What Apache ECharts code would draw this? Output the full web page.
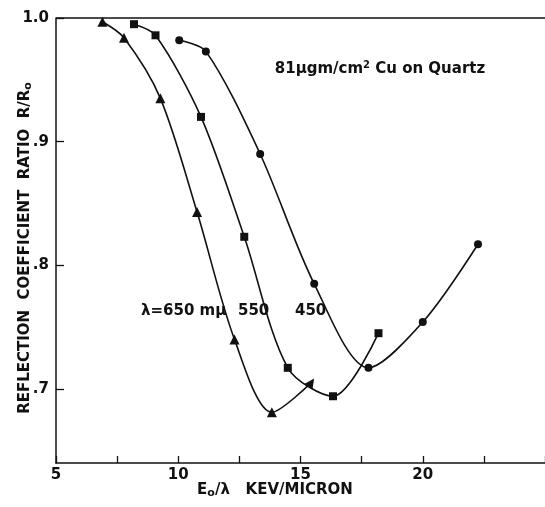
<!DOCTYPE html>
<html>
<head>
<meta charset="utf-8">
<script src="https://cdn.jsdelivr.net/npm/echarts@6/dist/echarts.min.js"></script>
<style>
  html, body { margin: 0; padding: 0; background: #fff; }
  #chart { width: 545px; height: 507px; }
</style>
</head>
<body>
<div id="chart"></div>
<script>
  // 650 m-mu (triangles)
  var x650 = [6.90, 7.78, 9.27, 10.77, 12.30, 13.83, 15.44];
  var y650 = [0.997, 0.984, 0.935, 0.843, 0.740, 0.681, 0.705];
  // 550 (squares)
  var x550 = [8.19, 9.07, 10.93, 12.70, 14.48, 16.33, 18.19];
  var y550 = [0.995, 0.986, 0.920, 0.823, 0.717, 0.694, 0.745];
  // 450 (circles)
  var x450 = [10.04, 11.13, 13.35, 15.56, 17.78, 20.0, 22.26];
  var y450 = [0.982, 0.973, 0.890, 0.785, 0.717, 0.754, 0.817];

  var xTicks = [5, 7.5, 10, 12.5, 15, 17.5, 20, 22.5, 25];
  var xLabels = [5, 10, 15, 20];
  var yTicks = [0.7, 0.8, 0.9, 1.0];

  var ink = '#111';
  var font = '"DejaVu Sans", Verdana, sans-serif';

  function pairs(xs, ys) {
    return xs.map(function (x, i) { return [x, ys[i]]; });
  }

  function curve(name, xs, ys, symbol, size) {
    return {
      name: name,
      type: 'line',
      smooth: 0.3,
      data: pairs(xs, ys),
      symbol: symbol,
      symbolSize: size,
      showAllSymbol: true,
      lineStyle: {color: ink, width: 1.6},
      itemStyle: {color: ink},
      z: 3
    };
  }

  function label(text, x, y) {
    return {
      type: 'text', x: x, y: y,
      style: {text: text, fill: ink, font: 'bold 15px ' + font, align: 'left', verticalAlign: 'middle'}
    };
  }

  var tri = curve('650', x650, y650, 'triangle', 10);
  // last point is drawn as an arrow head along the curve
  var last = tri.data.length - 1;
  tri.data[last] = {value: tri.data[last], symbolRotate: -35};

  var chart = echarts.init(document.getElementById('chart'));
  chart.setOption({
    animation: false,
    backgroundColor: '#fff',
    grid: {left: 56, right: -7, top: 18, bottom: 44},
    xAxis: {
      type: 'value',
      min: 5,
      max: 25,
      axisLine: {show: true, lineStyle: {color: ink, width: 1.5}},
      axisTick: {show: true, inside: true, length: 7, customValues: xTicks, lineStyle: {color: ink, width: 1.3}},
      axisLabel: {
        customValues: xLabels,
        margin: 5,
        color: ink,
        fontSize: 15,
        fontWeight: 'bold',
        fontFamily: font
      },
      splitLine: {show: false}
    },
    yAxis: {
      type: 'value',
      min: 0.64,
      max: 1.0,
      axisLine: {show: true, lineStyle: {color: ink, width: 1.5}},
      axisTick: {show: true, inside: true, length: 8, customValues: yTicks, lineStyle: {color: ink, width: 1.3}},
      axisLabel: {
        customValues: yTicks,
        margin: 7,
        color: ink,
        fontSize: 15,
        fontWeight: 'bold',
        fontFamily: font,
        formatter: function (v) {
          return v >= 0.999 ? '1.0' : '.' + Math.round(v * 10);
        }
      },
      splitLine: {show: false}
    },
    graphic: [
      // top frame line
      {type: 'line', shape: {x1: 56, y1: 18, x2: 545, y2: 18}, style: {stroke: ink, lineWidth: 1.5}, z: 5},
      {
        type: 'text', x: 25, y: 248, rotation: Math.PI / 2,
        style: {
          text: 'REFLECTION  COEFFICIENT  RATIO  R/R{s|o}',
          fill: ink, font: 'bold 15px ' + font,
          align: 'center', verticalAlign: 'middle',
          rich: {s: {fontSize: 11, fontWeight: 'bold', fontFamily: font, padding: [7, 0, 0, 0]}}
        }
      },
      {
        type: 'text', x: 275, y: 490,
        style: {
          text: 'E{s|o}/λ   KEV/MICRON',
          fill: ink, font: 'bold 15px ' + font,
          align: 'center', verticalAlign: 'middle',
          rich: {s: {fontSize: 11, fontWeight: 'bold', fontFamily: font, padding: [7, 0, 0, 0]}}
        }
      },
      {
        type: 'text', x: 380, y: 69,
        style: {
          text: '81μgm/cm{p|2} Cu on Quartz',
          fill: ink, font: 'bold 15px ' + font,
          align: 'center', verticalAlign: 'middle',
          rich: {p: {fontSize: 10, fontWeight: 'bold', fontFamily: font, padding: [0, 0, 8, 0]}}
        }
      },
      label('λ=650 mμ', 141, 311),
      label('550', 238, 311),
      label('450', 295, 311)
    ],
    series: [
      tri,
      curve('550', x550, y550, 'rect', 8),
      curve('450', x450, y450, 'circle', 8)
    ]
  });
</script>
</body>
</html>
